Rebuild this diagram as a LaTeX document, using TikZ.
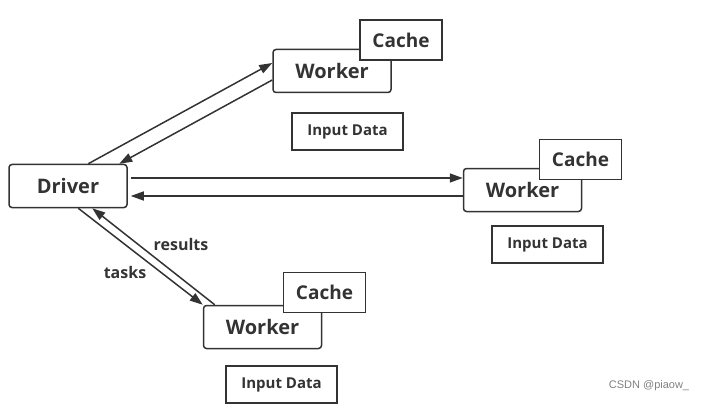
\documentclass[tikz,border=0pt]{standalone}
\usepackage{fontspec}
\setmainfont{Open Sans}
\newfontfamily\wmfont{Liberation Sans}
\usetikzlibrary{arrows.meta}
\definecolor{ink}{HTML}{333333}
\begin{document}
\begin{tikzpicture}[x=1pt,y=-1pt,
  box/.style={draw=ink,line width=1.5pt,fill=white,text=ink,inner sep=0pt,font=\bfseries},
  workerbox/.style={box,rounded corners=3pt,minimum width=118pt,minimum height=43pt,font=\bfseries\fontsize{20}{22}\selectfont},
  cachebox/.style={box,minimum width=82pt,minimum height=40pt,font=\bfseries\fontsize{19}{21}\selectfont},
  inputbox/.style={box,minimum width=111pt,minimum height=37pt,font=\bfseries\fontsize{15}{17}\selectfont},
  link/.style={draw=ink,line width=1.5pt,-{Triangle[length=13pt,width=9pt]}},
  lbl/.style={text=ink,font=\bfseries\fontsize{16}{18}\selectfont,inner sep=0pt}]
\useasboundingbox (0,0) rectangle (703,414);
% Driver
\node[workerbox] (driver) at (68,186) {Driver};
% Worker 1
\node[workerbox] (w1) at (332,71) {Worker};
\node[cachebox] (c1) at (401,40) {Cache};
\node[inputbox] (i1) at (347.5,131.5) {Input Data};
% Worker 2
\node[workerbox] (w2) at (522.5,190) {Worker};
\node[cachebox] (c2) at (580.5,159.5) {Cache};
\node[inputbox] (i2) at (547.5,244.5) {Input Data};
% Worker 3
\node[workerbox] (w3) at (262.5,327) {Worker};
\node[cachebox] (c3) at (324.5,292.5) {Cache};
\node[inputbox] (i3) at (281.5,384.5) {Input Data};
% connectors
\draw[link] ([xshift=80pt]driver.north west) -- ([yshift=8pt]w1.west);
\draw[link] ([yshift=-9pt]w1.west) -- ([xshift=111pt]driver.north west);
\coordinate (ra) at ([xshift=3pt,yshift=8pt]driver.east);
\coordinate (rb) at ([xshift=3pt,yshift=-10pt]driver.east);
\draw[link] (ra) -- (ra -| w2.west);
\draw[link] (rb -| w2.west) -- (rb);
\draw[link] ([xshift=70pt]driver.south west) -- (w3.north west);
\draw[link] ([xshift=12pt]w3.north west) -- ([xshift=84pt]driver.south west);
\node[lbl] (results) at (181,244) {results};
\node[lbl] (tasks) at (125,272) {tasks};
\node[text=black!50,font=\wmfont\fontsize{11}{13}\selectfont,inner sep=0pt] (wm) at (649,386) {CSDN @piaow\_};
\end{tikzpicture}
\end{document}
